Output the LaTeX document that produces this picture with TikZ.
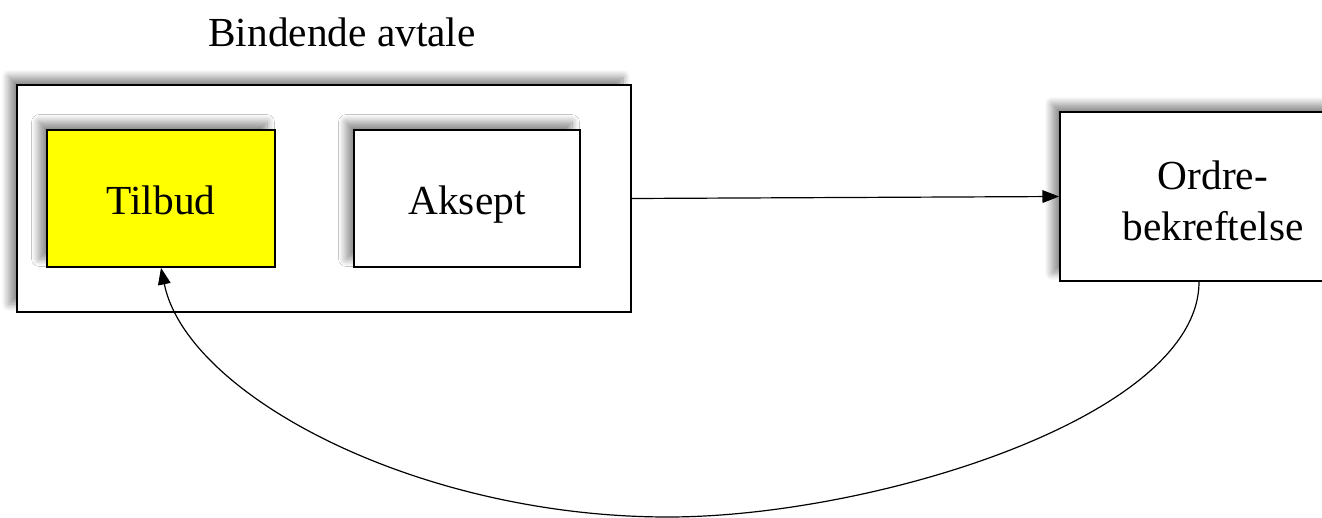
\documentclass[tikz,border=0pt]{standalone}
\usepackage{fontspec}
\setmainfont{Liberation Serif}
\usetikzlibrary{positioning, arrows.meta, shadows.blur}
\definecolor{OfferYellow}{HTML}{FFFF00}

\tikzset{
    box/.style={draw, line width=1.3pt, fill=white, inner sep=0pt,
        font=\fontsize{31}{38}\selectfont, align=center,
        blur shadow={shadow xshift=-6pt, shadow yshift=6pt, shadow blur radius=5.5pt,
            shadow blur steps=14, shadow opacity=45}},
    word/.style={text height=23.5pt, text depth=0pt},
    link/.style={line width=0.9pt, -{Triangle[length=12.5pt, width=9.5pt]}}
}

\begin{document}
\begin{tikzpicture}[x=0.75pt, y=-0.75pt]
    \useasboundingbox (0,0) rectangle (1322,518);
    % Frame round the binding agreement
    \node[box, line width=1pt, minimum width=460.5pt, minimum height=170.25pt] (avtale) at (324, 198.5) {};
    \node[font=\fontsize{31}{38}\selectfont] (title) at (342, 32) {Bindende avtale};

    % Steps
    \node[box, word, fill=OfferYellow, minimum width=171pt, minimum height=102.75pt] (tilbud) at (161, 198.5) {Tilbud};
    \node[box, word, minimum width=169.5pt, minimum height=102.75pt] (aksept) at (467, 198.5) {Aksept};
    \node[box, minimum width=229.5pt, minimum height=126.75pt] (ordre) at (1213, 196.5) {};
    \node[font=\fontsize{31}{38}\selectfont, align=center] (ordretekst) at (1213, 201) {Ordre-\\bekreftelse};

    % Connectors
    \draw[link] (avtale.east) -- (ordre.west);
    \draw[link] ([xshift=-10.5pt]ordre.south) .. controls (1199, 417) and (872, 517) .. (668, 517)
        .. controls (417, 517) and (187, 395) .. (tilbud.south);
\end{tikzpicture}
\end{document}
